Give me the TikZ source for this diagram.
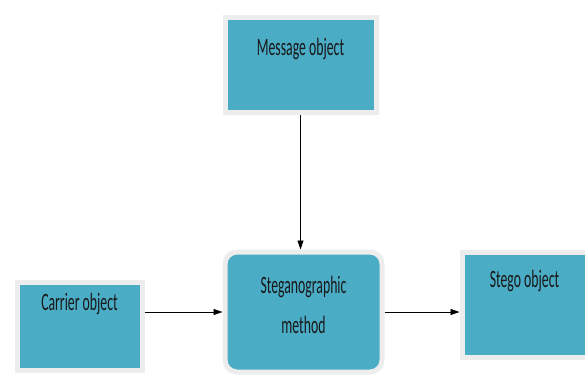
\documentclass[tikz,border=0pt]{standalone}
\usepackage{fontspec}
\setmainfont{Carlito}
\usetikzlibrary{arrows.meta, positioning}

\definecolor{boxteal}{HTML}{4BACC6}
\newcommand{\narrow}[1]{\scalebox{0.55}[1]{#1}}

\begin{document}
\begin{tikzpicture}[x=1pt, y=-1pt, >={Triangle[length=9pt, width=6pt]},
    block/.style={rectangle, draw=black!7, line width=5pt, fill=boxteal, inner sep=0pt},
    rblock/.style={block, rounded corners=12pt},
    lbl/.style={font=\fontsize{25}{40}\selectfont, text=black!90, inner sep=0pt, align=center, anchor=base}]

            \useasboundingbox (0,0) rectangle (585,379);

            \node[block, minimum width=151pt, minimum height=95pt] (Msg) at (300.5,65.5) {};
            \node[block, minimum width=125pt, minimum height=88pt] (Car) at (79.5,326) {};
            \node[rblock, minimum width=157pt, minimum height=120pt] (Steg) at (303.5,312) {};
            \node[block, minimum width=125pt, minimum height=105pt] (Out) at (524.5,304.5) {};

            \node[lbl] (MsgT) at ([yshift=-40pt]Msg.north) {\narrow{Message object}};
            \node[lbl] (CarT) at ([yshift=-31pt]Car.north) {\narrow{Carrier object}};
            \node[lbl] (StegT) at ([yshift=-84pt]Steg.north) {\narrow{Steganographic}\\\narrow{method}};
            \node[lbl] (OutT) at ([yshift=-38pt]Out.north) {\narrow{Stego object}};

            \draw[->, thick] (Msg.south) -- (Msg.south |- Steg.north);
            \draw[->, thick] (Car.east |- Steg.west) -- (Steg.west);
            \draw[->, thick] (Steg.east) -- (Steg.east -| Out.west);

        \end{tikzpicture}
\end{document}
